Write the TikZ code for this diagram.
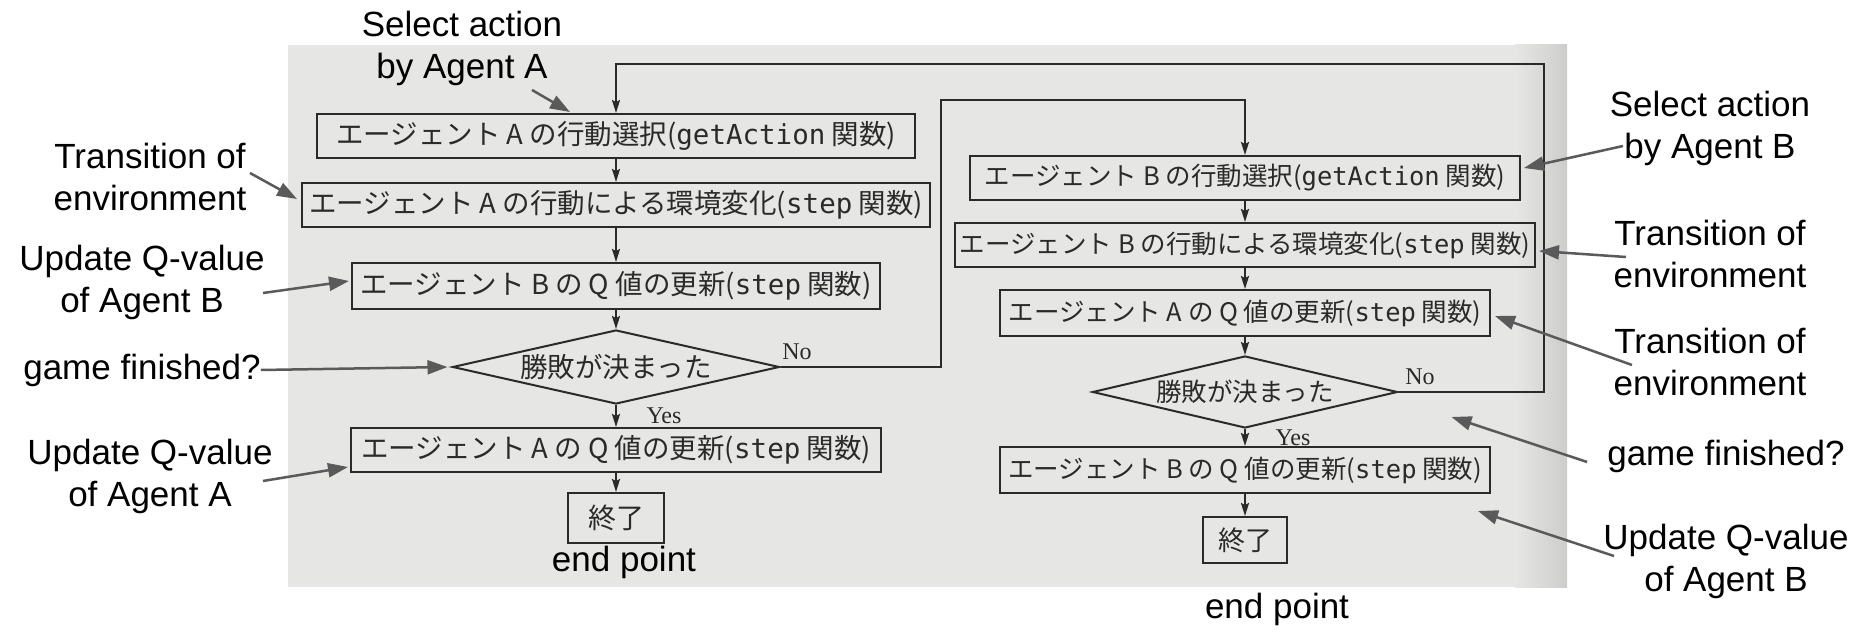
\documentclass[tikz,border=0pt]{standalone}
\usepackage{fontspec}
\setmainfont{Liberation Sans}
\newfontfamily\jp{Noto Sans CJK JP}
\newfontfamily\mono{DejaVu Sans Mono}
\newfontfamily\rmserif{Liberation Serif}
\usetikzlibrary{shapes.geometric,arrows.meta,calc}
\definecolor{pagegray}{HTML}{E6E6E4}
\definecolor{pageedge}{HTML}{CDCDCB}
\definecolor{ink}{HTML}{2A2A2A}
\definecolor{notegray}{HTML}{5A5A5A}
\begin{document}
\begin{tikzpicture}[x=1pt,y=-1pt,
  box/.style={draw=ink, line width=2pt, text=ink, inner sep=0pt, minimum height=44pt,
    font=\jp\fontsize{27.5}{30}\selectfont},
  boxr/.style={box, font=\jp\fontsize{25.5}{28}\selectfont},
  dec/.style={draw=ink, line width=2pt, text=ink, shape=diamond, inner sep=1pt, aspect=4.4,
    font=\jp\fontsize{27.5}{30}\selectfont},
  flow/.style={draw=ink, line width=2pt, -{Stealth[length=13pt,width=8pt,inset=2pt]}},
  note/.style={draw=notegray, line width=2.5pt, -{Triangle[length=20pt,width=14pt]}},
  lbl/.style={font=\fontsize{35}{42}\selectfont, align=center, text=black, inner sep=0pt},
  yn/.style={font=\rmserif\fontsize{24}{26}\selectfont, text=ink, inner sep=0pt}
]
\fill[white] (0,0) rectangle (1872,636);
\fill[pagegray] (288,45) rectangle (1567,587);
\shade[left color=pagegray, right color=pageedge] (1515,45) rectangle (1567,587);
\useasboundingbox (0,0) rectangle (1872,636);

% left column
\node[box, minimum width=598pt] (A1) at (616,136) {エージェント A の行動選択({\mono getAction} 関数)};
\node[box, minimum width=628pt] (A2) at (616,205) {エージェント A の行動による環境変化({\mono step} 関数)};
\node[box, minimum width=528pt, minimum height=46pt] (A3) at (616,286) {エージェント B の Q 値の更新({\mono step} 関数)};
\node[dec, minimum width=327pt, minimum height=74pt] (D1) at (616,367) {勝敗が決まった};
\node[box, minimum width=530pt] (A4) at (616,450) {エージェント A の Q 値の更新({\mono step} 関数)};
\node[box, minimum width=96pt, minimum height=50pt, font=\jp\fontsize{28}{30}\selectfont] (E1) at (616,518) {終了};
\node[yn] (noL) at (797,352) {No};
\node[yn] (yesL) at (664,416) {Yes};

% right column
\node[boxr, minimum width=550pt] (B1) at (1245,178) {エージェント B の行動選択({\mono getAction} 関数)};
\node[boxr, minimum width=580pt] (B2) at (1245,245) {エージェント B の行動による環境変化({\mono step} 関数)};
\node[boxr, minimum width=490pt, minimum height=46pt] (B3) at (1245,313) {エージェント A の Q 値の更新({\mono step} 関数)};
\node[dec, aspect=4.2, font=\jp\fontsize{25.5}{28}\selectfont, minimum width=305pt, minimum height=72pt] (D2) at (1245,392) {勝敗が決まった};
\node[boxr, minimum width=490pt, minimum height=46pt] (B4) at (1245,470) {エージェント B の Q 値の更新({\mono step} 関数)};
\node[box, minimum width=84pt, minimum height=46pt, font=\jp\fontsize{27}{30}\selectfont] (E2) at (1245,540) {終了};
\node[yn] (noR) at (1420,377) {No};
\node[yn] (yesR) at (1293,438) {Yes};

% flow
\draw[flow] (A1) -- (A2);
\draw[flow] (A2) -- (A3);
\draw[flow] (A3) -- (D1);
\draw[flow] (D1) -- (A4);
\draw[flow] (A4) -- (E1);
\draw[flow] (B1) -- (B2);
\draw[flow] (B2) -- (B3);
\draw[flow] (B3) -- (D2);
\draw[flow] (D2) -- (B4);
\draw[flow] (B4) -- (E2);
\coordinate (L1) at (941,100);
\draw[flow] (D1.east) -| (L1) -| (B1.north);
\coordinate (L2) at (1544,64);
\draw[flow] (D2.east) -| (L2) -| (A1.north);

% annotations left
\node[lbl] (selA) at (462,48) {Select action\\by Agent A};
\node[lbl] (trL) at (150,177) {Transition of\\environment};
\node[lbl] (upBL) at (142,282) {Update Q-value\\of Agent B};
\node[lbl] (gfL) at (142,370) {game finished?};
\node[lbl] (upAL) at (150,476) {Update Q-value\\of Agent A};
\node[lbl] (epL) at (624,562) {end point};
\coordinate (sA) at (532,90);
\coordinate (sTL) at (250,173);
\coordinate (sUBL) at (263,293);
\coordinate (sUAL) at (263,481);
\draw[note] (sA) -- ([xshift=-46pt,yshift=1pt]A1.north);
\draw[note] (sTL) -- ([xshift=-4pt,yshift=6pt]A2.west);
\draw[note] (sUBL) -- ([xshift=-2pt,yshift=5pt]A3.west);
\draw[note] (gfL.east) -- ([xshift=-4pt]D1.west);
\draw[note] (sUAL) -- ([xshift=-2pt,yshift=-17pt]A4.west);

% annotations right
\node[lbl] (selB) at (1710,128) {Select action\\by Agent B};
\node[lbl] (trR1) at (1710,254) {Transition of\\environment};
\node[lbl] (trR2) at (1710,362) {Transition of\\environment};
\node[lbl] (gfR) at (1726,456) {game finished?};
\node[lbl] (upBR) at (1726,561) {Update Q-value\\of Agent B};
\node[lbl] (epR) at (1277,609) {end point};
\coordinate (sSB) at (1623,146);
\coordinate (sT1) at (1626,257);
\coordinate (sT2) at (1632,365);
\coordinate (sUBR) at (1614,556);
\draw[note] (sSB) -- ([xshift=3pt,yshift=10pt]B1.east);
\draw[note] (sT1) -- ([xshift=3pt,yshift=-6pt]B2.east);
\draw[note] (sT2) -- ([xshift=4pt,yshift=-3pt]B3.east);
\draw[note] ([xshift=-20pt,yshift=-6pt]gfR.west) -- ([xshift=53pt,yshift=-25pt]D2.east);
\draw[note] (sUBR) -- ([xshift=-13pt,yshift=-17pt]B4.south east);
\end{tikzpicture}
\end{document}
